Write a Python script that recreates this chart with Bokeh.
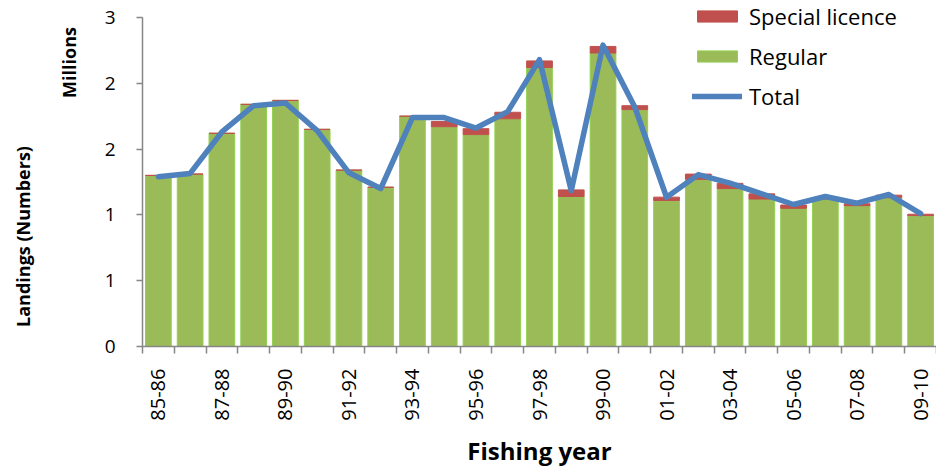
import math
from bokeh.plotting import figure
from bokeh.layouts import row
from bokeh.models import ColumnDataSource, FixedTicker, Legend, LegendItem, Range1d
from bokeh.core.properties import value
from bokeh.embed import file_html
from bokeh.resources import INLINE

years = ["85-86", "86-87", "87-88", "88-89", "89-90", "90-91", "91-92", "92-93",
         "93-94", "94-95", "95-96", "96-97", "97-98", "98-99", "99-00", "00-01",
         "01-02", "02-03", "03-04", "04-05", "05-06", "06-07", "07-08", "08-09", "09-10"]
regular = [1.30, 1.31, 1.62, 1.84, 1.87, 1.65, 1.34, 1.21,
           1.75, 1.67, 1.61, 1.73, 2.12, 1.14, 2.23, 1.80,
           1.11, 1.27, 1.20, 1.12, 1.05, 1.12, 1.07, 1.13, 0.995]
special = [0.0, 0.0, 0.0, 0.0, 0.0, 0.0, 0.0, 0.0,
           0.0, 0.04, 0.045, 0.05, 0.05, 0.05, 0.05, 0.03,
           0.025, 0.04, 0.04, 0.04, 0.025, 0.005, 0.015, 0.02, 0.01]
total = [1.29, 1.315, 1.63, 1.83, 1.85, 1.64, 1.32, 1.20,
         1.74, 1.74, 1.66, 1.785, 2.18, 1.185, 2.29, 1.82,
         1.134, 1.306, 1.242, 1.16, 1.079, 1.14, 1.089, 1.155, 1.01]
y_ticks = [0, 0.5, 1.0, 1.5, 2.0, 2.5]
y_tick_labels = ["0", "1", "1", "2", "2", "3"]

FONT = "Open Sans"
AXIS_GREY = "#868686"
H = 469            # figure height
BOTTOM = 123       # space below the plot frame
FRAME_H = H - BOTTOM
Y_TOP = 2.5 * FRAME_H / (FRAME_H - 17)   # leaves room above the 2.5 tick for the legend

xpos = [i + 0.5 for i in range(len(years))]
source = ColumnDataSource(dict(x=xpos, regular=regular, special=special, total=total))

# ---- left strip holding the vertical axis titles ----
side = figure(width=100, height=H, x_range=Range1d(0, 100), y_range=Range1d(0, FRAME_H),
              output_backend="svg", toolbar_location=None,
              x_axis_location=None, y_axis_location=None,
              min_border_left=0, min_border_right=0, min_border_top=0, min_border_bottom=BOTTOM)
side.outline_line_color = None
side.grid.visible = False
side.text(x=[22], y=[FRAME_H - 236], text=["Landings (Numbers)"], angle=math.pi / 2,
          text_align="center", text_baseline="middle", text_font=value(FONT),
          text_font_style="bold", text_font_size="18px", text_color="black")
side.text(x=[68], y=[FRAME_H - 62], text=["Millions"], angle=math.pi / 2,
          text_align="center", text_baseline="middle", text_font=value(FONT),
          text_font_style="bold", text_font_size="18px", text_color="black")

# ---- main chart ----
p = figure(width=836, height=H, x_range=Range1d(0, len(years)), y_range=Range1d(0, Y_TOP),
           output_backend="svg", toolbar_location=None,
           min_border_left=42, min_border_right=0, min_border_top=0, min_border_bottom=BOTTOM)
p.outline_line_color = None
p.xgrid.visible = False
p.ygrid.visible = False

bars = p.vbar_stack(["regular", "special"], x="x", width=0.81, source=source,
                    fill_color=["#9BBB59", "#C0504D"], line_color=["#92D050", "#C0504D"],
                    line_width=1)
ln = p.line("x", "total", source=source, line_color="#4F81BD", line_width=5.5,
            line_join="round", line_cap="round")

xa = p.xaxis[0]
xa.ticker = FixedTicker(ticks=[xpos[i] for i in range(0, len(years), 2)],
                        minor_ticks=list(range(0, len(years) + 1)))
xa.major_label_overrides = {xpos[i]: years[i] for i in range(0, len(years), 2)}
xa.major_tick_line_color = None
xa.major_tick_out = 7
xa.major_tick_in = 0
xa.minor_tick_line_color = AXIS_GREY
xa.minor_tick_line_width = 1.5
xa.minor_tick_out = 7
xa.minor_tick_in = 0
xa.axis_line_color = AXIS_GREY
xa.axis_line_width = 1.5
xa.major_label_orientation = math.pi / 2
xa.major_label_standoff = 15
xa.major_label_text_font = FONT
xa.major_label_text_font_size = "20px"
xa.major_label_text_color = "black"
xa.axis_label = "Fishing year"
xa.axis_label_standoff = 10
xa.axis_label_text_font = FONT
xa.axis_label_text_font_size = "24px"
xa.axis_label_text_font_style = "bold"
xa.axis_label_text_color = "black"

ya = p.yaxis[0]
ya.bounds = (0, 2.5)
ya.ticker = FixedTicker(ticks=y_ticks, minor_ticks=[])
ya.major_label_overrides = {t: l for t, l in zip(y_ticks, y_tick_labels)}
ya.axis_line_color = AXIS_GREY
ya.axis_line_width = 1.5
ya.major_tick_line_color = AXIS_GREY
ya.major_tick_line_width = 1.5
ya.major_tick_out = 6
ya.major_tick_in = 0
ya.major_label_standoff = 21
ya.major_label_text_font = FONT
ya.major_label_text_font_size = "19px"
ya.major_label_text_color = "black"

legend = Legend(items=[LegendItem(label="Special licence", renderers=[bars[1]]),
                       LegendItem(label="Regular", renderers=[bars[0]]),
                       LegendItem(label="Total", renderers=[ln])],
                location=(550, 235), orientation="vertical",
                glyph_width=50, glyph_height=14, label_standoff=7, spacing=10,
                padding=0, margin=0, border_line_color=None, background_fill_alpha=0,
                label_text_font=FONT, label_text_font_size="22px", label_text_color="black")
p.add_layout(legend, "center")

layout = row(side, p)
open("out.html", "w").write(file_html(layout, INLINE))
